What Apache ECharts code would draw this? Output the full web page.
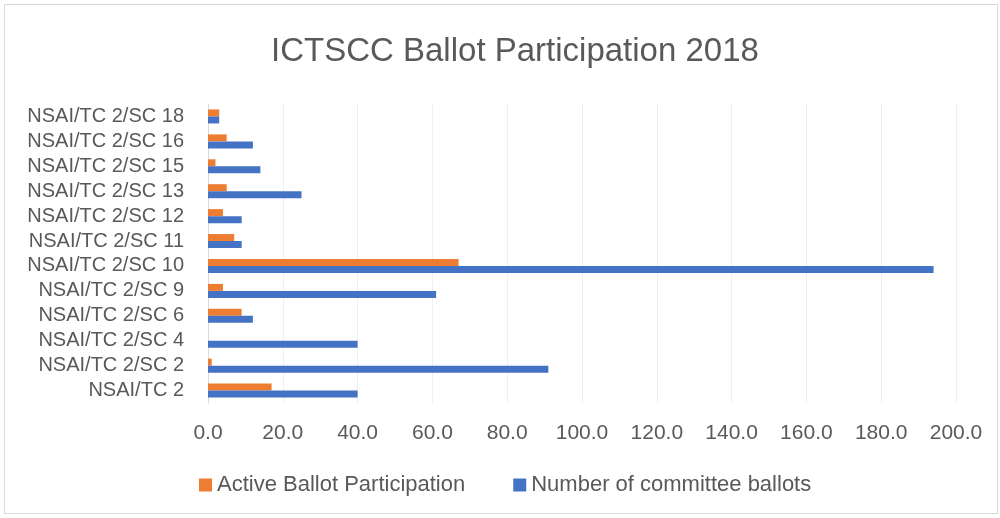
<!DOCTYPE html>
<html><head><meta charset="utf-8">
<script src="https://cdn.jsdelivr.net/npm/echarts@6/dist/echarts.min.js"></script>
<style>
html,body{margin:0;padding:0;background:#fff;}
#frame{position:absolute;left:4px;top:4px;width:994px;height:510px;border:1px solid #d9d9d9;box-sizing:border-box;}
#chart{position:absolute;left:0;top:0;width:1000px;height:518px;}
</style></head>
<body>
<div id="frame"></div>
<div id="chart"></div>
<script>
const categories = ['NSAI/TC 2','NSAI/TC 2/SC 2','NSAI/TC 2/SC 4','NSAI/TC 2/SC 6','NSAI/TC 2/SC 9','NSAI/TC 2/SC 10','NSAI/TC 2/SC 11','NSAI/TC 2/SC 12','NSAI/TC 2/SC 13','NSAI/TC 2/SC 15','NSAI/TC 2/SC 16','NSAI/TC 2/SC 18'];
const activeParticipation = [17, 1, 0, 9, 4, 67, 7, 4, 5, 2, 5, 3];
const committeeBallots = [40, 91, 40, 12, 61, 194, 9, 9, 25, 14, 12, 3];
const seriesNames = ['Active Ballot Participation', 'Number of committee ballots'];
const FONT = '"Liberation Sans", sans-serif';
const chart = echarts.init(document.getElementById('chart'), null, {renderer:'canvas'});
chart.setOption({
  animation:false,
  title:{text:'ICTSCC Ballot Participation 2018', left:266, top:30,
    textStyle:{fontFamily:FONT, fontSize:33, fontWeight:'normal', color:'#595959'}},
  legend:{top:469, left:194, itemWidth:13, itemHeight:13, itemGap:48,
    data:[{name:seriesNames[0], icon:'rect'},{name:seriesNames[1], icon:'rect'}],
    textStyle:{fontFamily:FONT, fontSize:22, color:'#595959'}},
  grid:{left:208, right:44, top:104, bottom:115, containLabel:false},
  xAxis:{type:'value', min:0, max:200, interval:20,
    axisLabel:{formatter:v=>v.toFixed(1), fontFamily:FONT, fontSize:21, color:'#595959', margin:20},
    splitLine:{lineStyle:{color:'#eeeef5', width:1}},
    axisLine:{show:false}, axisTick:{show:false}},
  yAxis:{type:'category', data:categories,
    axisLabel:{interval:0, fontFamily:FONT, fontSize:20, color:'#595959', margin:24},
    axisLine:{lineStyle:{color:'#d9d9d9', width:1}}, axisTick:{show:false}},
  series:[
    {name:seriesNames[0], type:'bar', data:activeParticipation, barWidth:7, barGap:'0%',
      itemStyle:{color:'#ed7d31'}},
    {name:seriesNames[1], type:'bar', data:committeeBallots, barWidth:7, barGap:'0%',
      itemStyle:{color:'#4472c4'}}
  ]
});
</script>
</body></html>
